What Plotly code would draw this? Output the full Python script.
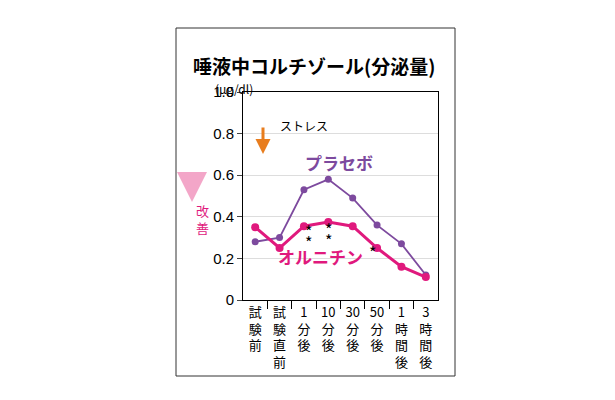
import plotly.graph_objects as go

categories = ["試験前", "試験直前", "1分後", "10分後", "30分後", "50分後", "1時間後", "3時間後"]
tick_labels = ["試<br>験<br>前", "試<br>験<br>直<br>前", "1<br>分<br>後", "10<br>分<br>後", "30<br>分<br>後", "50<br>分<br>後", "1<br>時<br>間<br>後", "3<br>時<br>間<br>後"]
placebo = [0.28, 0.30, 0.53, 0.58, 0.49, 0.36, 0.27, 0.12]
ornithine = [0.35, 0.25, 0.355, 0.375, 0.355, 0.25, 0.16, 0.11]
yticks = [0, 0.2, 0.4, 0.6, 0.8, 1.0]
ytick_labels = ["0", "0.2", "0.4", "0.6", "0.8", "1.0"]

F = "Noto Sans CJK JP"
purple = "#7d4a9e"
pink = "#e0197d"
xs = list(range(len(categories)))

fig = go.Figure()
fig.add_trace(go.Scatter(x=xs, y=placebo, mode="lines+markers",
                         line=dict(color=purple, width=1.8), marker=dict(size=7, color=purple)))
fig.add_trace(go.Scatter(x=xs, y=ornithine, mode="lines+markers",
                         line=dict(color=pink, width=3), marker=dict(size=8, color=pink)))

L, R, T, B = 235, 430, 84, 292
W, H = 615, 400
def px(x): return (x - L) / (R - L)
def py(y): return (H - y - (H - B)) / (B - T)

fig.update_layout(
    width=W, height=H, showlegend=False,
    paper_bgcolor="white", plot_bgcolor="white",
    margin=dict(l=L, r=W - R, t=T, b=H - B, pad=0),
    font=dict(family=F, color="black"),
    xaxis=dict(range=[-0.5, 7.5], tickvals=xs, ticktext=tick_labels, ticks="",
               tickfont=dict(size=13, family=F), showgrid=False, zeroline=False,
               showline=True, linecolor="black", linewidth=1, mirror=True,
               minor=dict(tickvals=[i + 0.5 for i in range(7)], ticks="outside", ticklen=8,
                          tickcolor="black", showgrid=False)),
    yaxis=dict(range=[0, 1.0], tickvals=yticks, ticktext=ytick_labels, ticks="outside",
               ticklen=5, tickfont=dict(size=15, family="Liberation Sans"),
               showgrid=True, gridcolor="#dddddd", zeroline=False,
               showline=True, linecolor="black", linewidth=1, mirror=True),
)

fig.add_shape(type="rect", xref="paper", yref="paper",
              x0=px(168), x1=px(447), y0=py(368), y1=py(20),
              line=dict(color="#333", width=1))

def ann(text, x, y, size, color="black", **kw):
    fig.add_annotation(text=text, xref="paper", yref="paper", x=px(x), y=py(y),
                       showarrow=False, font=dict(size=size, color=color, family=F), **kw)

ann("<b>唾液中コルチゾール(分泌量)</b>", 306, 42, 19)
ann("(μg/dl)", 205, 70, 12)
ann("ストレス", 270, 107, 12)
ann("<b>プラセボ</b>", 331, 154, 17, purple)
ann("<b>オルニチン</b>", 312, 263, 17, pink)
ann("改<br>善", 186, 211, 13, pink)
for (x, y) in [(295, 233), (295, 244), (320, 231), (320, 242), (370, 254)]:
    ann("*", x, y + 4, 16)

fig.add_annotation(xref="paper", yref="paper", x=px(255), y=py(146), ax=0, ay=-28,
                   showarrow=True, arrowhead=2, arrowsize=1,
                   arrowwidth=3, arrowcolor="#e87d1e", text="")
fig.add_annotation(xref="paper", yref="paper", x=px(184), y=py(194), ax=0, ay=-29,
                   showarrow=True, arrowhead=2, arrowsize=1,
                   arrowwidth=6, arrowcolor="#f3a6c8", text="")

fig.write_html("out.html")
